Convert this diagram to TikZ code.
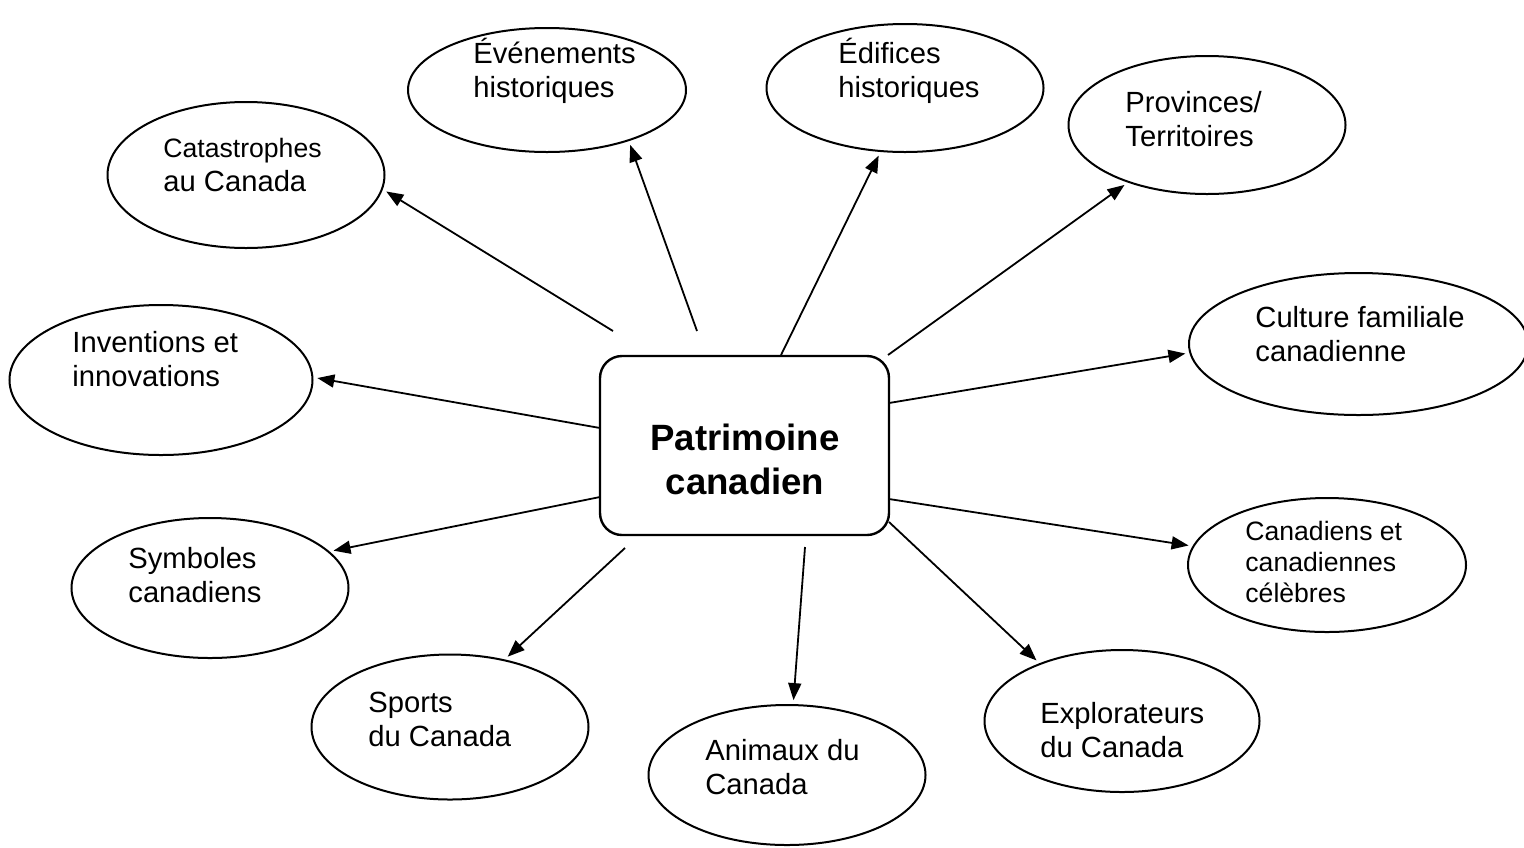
\documentclass[tikz,border=0pt]{standalone}
\usepackage{fontspec}
\setmainfont{Liberation Sans}
\usetikzlibrary{shapes.geometric,arrows.meta}

\begin{document}
\begin{tikzpicture}[x=0.5pt,y=-0.5pt,
	bubble/.style={draw, ellipse, line width=1pt, inner sep=0pt},
	lbl/.style={anchor=north west, align=left, inner sep=0pt, font=\fontsize{14.6}{17}\selectfont},
	arr/.style={-{Triangle[length=8.5pt,width=6.5pt]}, line width=0.9pt, shorten >=2pt}]
	\useasboundingbox (0,0) rectangle (1524,847);
	% centre
	\node[draw, rounded corners=11pt, line width=1.2pt, minimum width=144.5pt, minimum height=89.5pt] (pat) at (744.5,445.5) {};
	\node[align=center, inner sep=0pt, font=\fontsize{18.3}{22}\selectfont\bfseries] (pat-t) at (745,459) {Patrimoine\\canadien};
	% bubbles
	\node[bubble, minimum width=138.5pt, minimum height=73pt] (cat) at (246,175) {};
	\node[bubble, minimum width=139pt, minimum height=62pt] (eve) at (547,90) {};
	\node[bubble, minimum width=138.5pt, minimum height=64pt] (edi) at (905,88) {};
	\node[bubble, minimum width=138.5pt, minimum height=69pt] (pro) at (1207,125) {};
	\node[bubble, minimum width=169.5pt, minimum height=71pt] (cul) at (1358.5,344) {};
	\node[bubble, minimum width=139pt, minimum height=67pt] (can) at (1327,565) {};
	\node[bubble, minimum width=137.5pt, minimum height=71pt] (exp) at (1122,721) {};
	\node[bubble, minimum width=138.5pt, minimum height=70pt] (ani) at (787,775) {};
	\node[bubble, minimum width=138.5pt, minimum height=72.5pt] (spo) at (450,727) {};
	\node[bubble, minimum width=138.5pt, minimum height=70pt] (sym) at (210,588) {};
	\node[bubble, minimum width=151.5pt, minimum height=75pt] (inv) at (161,380) {};
	% labels
	\node[lbl] (cat-t) at (163,138) {{\fontsize{13.3}{17}\selectfont Catastrophes}\\au Canada};
	\node[lbl] (eve-t) at (473,37.6) {Événements\\historiques};
	\node[lbl] (edi-t) at (838,37.6) {Édifices\\historiques};
	\node[lbl] (pro-t) at (1125,91.2) {Provinces/\\Territoires};
	\node[lbl] (cul-t) at (1255,306.2) {Culture familiale\\canadienne};
	\node[lbl] (inv-t) at (72,331.2) {Inventions et\\innovations};
	\node[lbl] (sym-t) at (128,547.2) {Symboles\\canadiens};
	\node[lbl, font=\fontsize{13.3}{15.5}\selectfont] (can-t) at (1245,521.3) {Canadiens et\\canadiennes\\célèbres};
	\node[lbl] (spo-t) at (368,691.2) {Sports\\du Canada};
	\node[lbl] (ani-t) at (705,739.2) {Animaux du\\Canada};
	\node[lbl] (exp-t) at (1040,702.2) {Explorateurs\\du Canada};
	% arrows
	\draw[arr] (pat.center) ++(-131.5,-114.5) -- (cat.-6);
	\draw[arr] (pat.center) ++(-47.5,-114.5) -- (eve.-32);
	\draw[arr] (pat.center) ++(36.5,-90.5) -- (edi.249);
	\draw[arr] (pat.center) ++(143.5,-90.5) -- (pro.216);
	\draw[arr] (pat.center) ++(144.5,-42.5) -- (cul.183);
	\draw[arr] (pat.center) ++(144.5,53.5) -- (can.172);
	\draw[arr] (pat.center) ++(144.5,76.5) -- (exp.145);
	\draw[arr] (pat.center) ++(60.5,101.5) -- (ani.85);
	\draw[arr] (pat.center) ++(-119.5,102.5) -- (spo.51);
	\draw[arr] (pat.center) ++(-144.5,51.5) -- (sym.17);
	\draw[arr] (pat.center) ++(-144.5,-17.5) -- (inv.1);
\end{tikzpicture}
\end{document}
